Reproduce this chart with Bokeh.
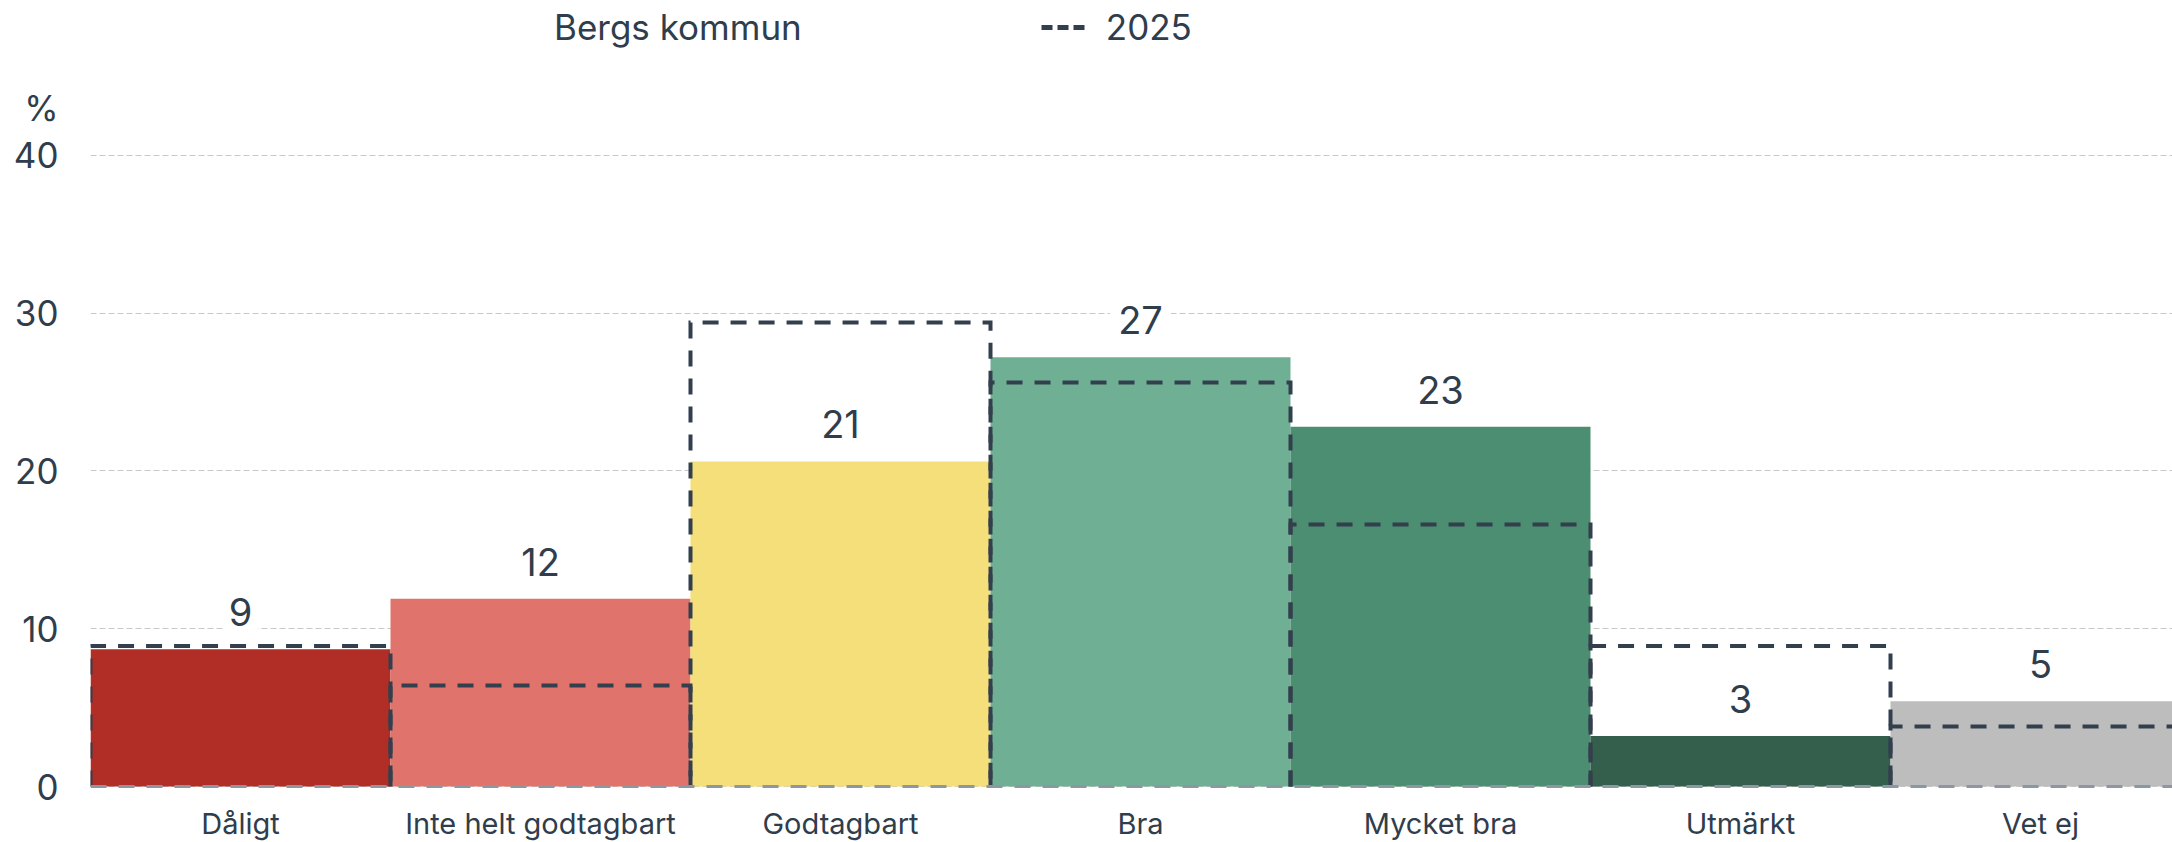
from bokeh.plotting import figure
from bokeh.models import (ColumnDataSource, Range1d, FixedTicker, LabelSet, Span,
                          Legend, LegendItem)
from bokeh.core.properties import value
from bokeh.embed import file_html
from bokeh.resources import INLINE

# ---- data ----
categories = ["Dåligt", "Inte helt godtagbart", "Godtagbart", "Bra",
              "Mycket bra", "Utmärkt", "Vet ej"]
values_kommun = [8.7, 11.9, 20.6, 27.2, 22.8, 3.2, 5.4]
values_2025 = [8.9, 6.4, 29.4, 25.6, 16.6, 8.9, 3.8]
y_ticks = [0, 10, 20, 30, 40]
unit_label = "%"
series_name = "Bergs kommun"
ref_name = "2025"

# ---- styles ----
bar_colors = ["#B02E26", "#E0746C", "#F5DF7B", "#6FB095", "#4C8E71", "#335F4C", "#BDBDBD"]
TEXT = "#2F3D4C"
DASH = "#333F4D"
FONT = "Inter"

x = list(range(len(categories)))
# open outline (left, top, right) of each reference-year box, built from the data
ref_xs = [[i - 0.5, i - 0.5, i + 0.5, i + 0.5] for i in x]
ref_ys = [[0, v, v, 0] for v in values_2025]

src = ColumnDataSource(dict(
    x=x, cat=categories, val=values_kommun, ref=values_2025,
    color=bar_colors, lbl=[str(round(v)) for v in values_kommun],
))
ref_src = ColumnDataSource(dict(xs=ref_xs, ys=ref_ys))

W, H = 2172, 842
LEFT = 90
PX_PER_UNIT = 15.78
ZERO_FROM_BOTTOM = 56
y0 = -ZERO_FROM_BOTTOM / PX_PER_UNIT
y1 = (H - ZERO_FROM_BOTTOM) / PX_PER_UNIT
x1 = -0.5 + (W - LEFT) / 300.0

p = figure(width=W, height=H, output_backend="svg", toolbar_location=None,
           x_range=Range1d(-0.5, x1), y_range=Range1d(y0, y1),
           x_axis_location=None,
           min_border_left=LEFT, min_border_right=0, min_border_top=0,
           min_border_bottom=0)
p.outline_line_color = None
p.background_fill_color = "white"

p.vbar(x="x", width=1.0, top="val", bottom=0, source=src,
       fill_color="color", line_color=None)
p.multi_line(xs="xs", ys="ys", source=ref_src, line_color=DASH, line_width=4,
             line_dash="16 12", line_join="miter")

p.add_layout(Span(location=0, dimension="width", line_color="#8C97A3",
                  line_width=3, line_dash="16 12"))

labels = LabelSet(x="x", y="val", text="lbl", source=src, y_offset=37,
                  text_align="center", text_baseline="middle",
                  text_font=value(FONT), text_font_size=value("38px"),
                  text_color=value(TEXT),
                  background_fill_color="white",
                  border_line_color="white", border_line_width=16)
p.add_layout(labels)

# category labels under the bars
p.text(x="x", y=-2.35, text="cat", source=src, text_align="center",
       text_baseline="middle", text_font=value(FONT),
       text_font_size=value("29px"), text_color=TEXT)

# y axis
UNIT_POS = 43
p.yaxis.ticker = FixedTicker(ticks=y_ticks + [UNIT_POS])
p.yaxis.major_label_overrides = {UNIT_POS: unit_label}
p.yaxis.axis_line_color = None
p.yaxis.major_tick_line_color = None
p.yaxis.minor_tick_line_color = None
p.yaxis.major_tick_out = 0
p.yaxis.major_tick_in = 0
p.yaxis.major_label_text_font = FONT
p.yaxis.major_label_text_font_size = "35px"
p.yaxis.major_label_text_color = TEXT
p.yaxis.major_label_standoff = 32

p.xgrid.visible = False
p.ygrid.ticker = FixedTicker(ticks=y_ticks)
p.ygrid.grid_line_color = "#C8C8C8"
p.ygrid.grid_line_dash = "6 3"
p.ygrid.grid_line_width = 1.2

# legend (label-only item for the bars, dashed line for the reference year)
leg_bar = p.vbar(x="x", top="val", width=1, source=src, fill_alpha=0,
                 line_alpha=0, visible=False)
leg_line = p.line(x="x", y="ref", source=src, line_color=DASH, line_width=5,
                  line_dash="11 5", visible=False)
legend = Legend(items=[LegendItem(label=series_name, renderers=[leg_bar]),
                       LegendItem(label=ref_name, renderers=[leg_line])],
                orientation="horizontal", location=(399, H - 48),
                glyph_width=48, glyph_height=40, label_height=40,
                label_standoff=17, spacing=239, padding=0, margin=0,
                border_line_color=None, background_fill_alpha=0,
                label_text_font=FONT, label_text_font_size="35px",
                label_text_color=TEXT)
p.add_layout(legend, "center")

open("out.html", "w").write(file_html(p, INLINE))
